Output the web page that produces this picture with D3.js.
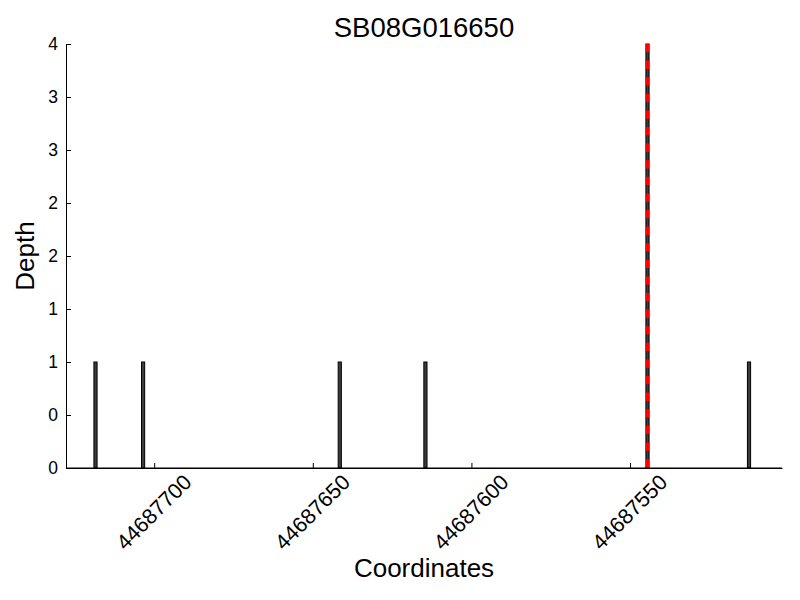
<!DOCTYPE html>
<html>
<head>
<meta charset="utf-8">
<script src="https://cdn.jsdelivr.net/npm/d3@7"></script>
<style>
  body { margin: 0; background: #fff; }
  text { font-family: "Liberation Sans", Arial, sans-serif; fill: #000; }
</style>
</head>
<body>
<div id="chart"></div>
<script>
// data (bar left edges, width 1)
const positions = [44687718, 44687703, 44687641, 44687614, 44687544, 44687512];
const depths = [1, 1, 1, 1, 4, 1];
const highlight = [44687544];
const xTicks = [44687700, 44687650, 44687600, 44687550];
const yTicks = [0, 0.5, 1, 1.5, 2, 2.5, 3, 3.5, 4];
const xDomain = [44687727.8, 44687502.1];

const W = 800, H = 600;
const mLeft = 66, mRight = 782, mTop = 44, mBottom = 468;

let svg = d3.select("#chart").append("svg")
  .attr("width", W).attr("height", H);

let x = d3.scaleLinear().domain(xDomain).range([mLeft, mRight]);
let y = d3.scaleLinear().domain([0, 4]).range([mBottom, mTop]);

// bars
let bw = Math.abs(x(1) - x(0));
svg.selectAll("rect.bar")
  .data(positions)
  .enter()
  .append("rect")
  .attr("class", "bar")
  .attr("x", (d) => x(d + 1))
  .attr("y", (d, i) => y(depths[i]))
  .attr("width", bw)
  .attr("height", (d, i) => mBottom - y(depths[i]))
  .attr("fill", "#3d3d3d")
  .attr("stroke", "#000")
  .attr("stroke-width", 1);

// red dashed line
svg.selectAll("line.hl")
  .data(highlight)
  .enter()
  .append("line")
  .attr("x1", (d) => x(d + 0.5)).attr("x2", (d) => x(d + 0.5))
  .attr("y1", mTop).attr("y2", mBottom)
  .attr("stroke", "red")
  .attr("stroke-width", 3)
  .attr("stroke-dasharray", "8.3,8.3");

// x axis
let xAxis = svg.append("g")
  .attr("transform", `translate(0,${mBottom})`)
  .call(d3.axisBottom(x).tickValues(xTicks).tickSizeInner(-5).tickSizeOuter(0).tickFormat(d3.format("d")));
xAxis.select(".domain").attr("stroke", "#000");
xAxis.selectAll(".tick line").attr("stroke", "#000");
xAxis.selectAll(".tick text")
  .attr("font-size", 21.5)
  .attr("text-anchor", "middle")
  .attr("y", 0)
  .attr("dy", "0.35em")
  .attr("transform", "translate(-1,44) rotate(-45)");

// y axis
let yAxis = svg.append("g")
  .attr("transform", `translate(${mLeft},0)`)
  .call(d3.axisLeft(y).tickValues(yTicks).tickSizeInner(-5).tickSizeOuter(0).tickPadding(8)
    .tickFormat((d) => Math.floor(d)));
yAxis.select(".domain").attr("stroke", "#000");
yAxis.selectAll(".tick line").attr("stroke", "#000");
yAxis.selectAll(".tick text").attr("font-size", 17.5);

// bottom spine across full width
svg.append("line")
  .attr("x1", mLeft).attr("x2", mRight)
  .attr("y1", mBottom).attr("y2", mBottom)
  .attr("stroke", "#000");

// title and labels
svg.append("text")
  .attr("x", 424).attr("y", 37)
  .attr("text-anchor", "middle")
  .attr("font-size", 27.5)
  .text("SB08G016650");

svg.append("text")
  .attr("x", 424).attr("y", 577)
  .attr("text-anchor", "middle")
  .attr("font-size", 26)
  .text("Coordinates");

svg.append("text")
  .attr("transform", "translate(34,256) rotate(-90)")
  .attr("text-anchor", "middle")
  .attr("font-size", 26)
  .text("Depth");
</script>
</body>
</html>
